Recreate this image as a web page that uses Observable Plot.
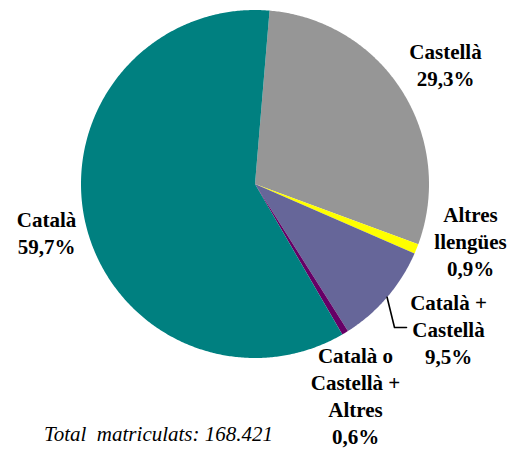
<!DOCTYPE html>
<html>
<head>
<meta charset="utf-8">
<script src="https://cdn.jsdelivr.net/npm/d3@7"></script>
<script src="https://cdn.jsdelivr.net/npm/@observablehq/plot@0.6"></script>
<style>
  html, body { margin: 0; padding: 0; background: #fff; }
  svg { display: block; }
</style>
</head>
<body>
<div id="chart"></div>
<script>
// ---- data ----
const categories = ["Castellà", "Altres llengües", "Català + Castellà", "Català o Castellà + Altres", "Català"];
const shares = [29.3, 0.9, 9.5, 0.6, 59.7];
const shareLabels = ["29,3%", "0,9%", "9,5%", "0,6%", "59,7%"];
const labelLines = [["Castellà"], ["Altres", "llengües"], ["Català +", "Castellà"], ["Català o", "Castellà +", "Altres"], ["Català"]];
const colors = ["#969696", "#ffff00", "#666699", "#660066", "#008080"];
const caption = "Total\u00a0 matriculats: 168.421";

// ---- layout ----
const W = 511, H = 449;
const CX = 254.5, CY = 183.5, R = 174;
const START = 4.8; // degrees clockwise from 12 o'clock
const FONT = "Liberation Serif";
const FONT_SIZE = 21;
// label anchors: x centre, baseline of last line (pixels)
const labelPos = [[445, 85], [470, 275], [448, 363], [355, 443], [46, 253]];
const leaderElbow = [[394, 327], [406, 327]]; // for "Català + Castellà"
const captionPos = [158, 440];

// ---- geometry from the values ----
const total = d3.sum(shares);
let acc = START;
const slices = shares.map((v, i) => {
  const a0 = acc, a1 = acc + v / total * 360;
  acc = a1;
  return {name: categories[i], a0, a1};
});
const pt = (deg, r) => {
  const t = deg * Math.PI / 180;
  return [CX + r * Math.sin(t), CY - r * Math.cos(t)];
};
const piePts = [];
for (const s of slices) {
  piePts.push({name: s.name, x: CX, y: CY});
  const n = Math.max(2, Math.ceil((s.a1 - s.a0) / 0.5));
  for (let k = 0; k <= n; k++) {
    const [x, y] = pt(s.a0 + (s.a1 - s.a0) * k / n, R);
    piePts.push({name: s.name, x, y});
  }
}
const labels = categories.map((c, i) => ({
  text: [...labelLines[i], shareLabels[i]].join("\n"),
  x: labelPos[i][0], y: labelPos[i][1]
}));
const s2 = slices[2];
const edge = pt((s2.a0 + s2.a1) / 2, R);
const leader = [{x: edge[0], y: edge[1]}, ...leaderElbow.map(([x, y]) => ({x, y}))];

const chart = Plot.plot({
  width: W, height: H, margin: 0,
  x: {domain: [0, W], range: [0, W], axis: null},
  y: {domain: [0, H], range: [0, H], axis: null},
  color: {domain: categories, range: colors},
  style: {background: "#fff", fontFamily: FONT},
  marks: [
    Plot.line(piePts, {x: "x", y: "y", z: "name", fill: "name", stroke: "none", curve: "linear"}),
    Plot.line(leader, {x: "x", y: "y", stroke: "#000", strokeWidth: 1.6}),
    Plot.text(labels, {x: "x", y: "y", text: "text", lineAnchor: "bottom", lineHeight: 27 / FONT_SIZE,
      fontSize: FONT_SIZE, fontWeight: "bold", fontFamily: FONT, fill: "#000", textAnchor: "middle"}),
    Plot.text([caption], {x: captionPos[0], y: captionPos[1], text: d => d, lineAnchor: "bottom",
      fontSize: FONT_SIZE, fontStyle: "italic", fontFamily: FONT, fill: "#000"})
  ]
});
chart.style.setProperty("font-family", "'Liberation Serif', serif", "important");
chart.querySelectorAll("g, text, tspan").forEach(el => {
  el.setAttribute("font-family", FONT);
  el.style.setProperty("font-family", "'Liberation Serif', serif", "important");
});
document.getElementById("chart").appendChild(chart);
</script>
</body>
</html>
